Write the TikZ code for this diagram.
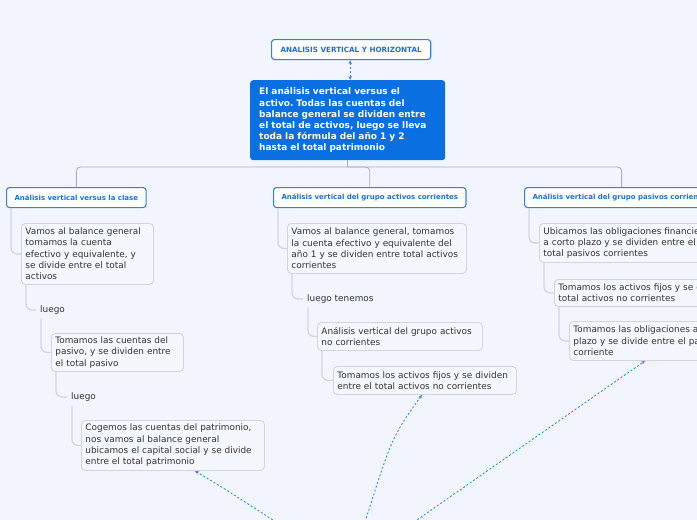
\documentclass[tikz,border=0pt]{standalone}
\usepackage{fontspec}
\setmainfont{DejaVu Sans}
\usetikzlibrary{arrows.meta,calc}
\definecolor{bgc}{HTML}{F2F5FD}
\definecolor{subfill}{HTML}{F5F7FE}
\definecolor{subline}{HTML}{D2D5DD}
\definecolor{txt}{HTML}{333333}
\definecolor{blueb}{HTML}{2F80E8}
\definecolor{bluet}{HTML}{1F6FD8}
\definecolor{rootc}{HTML}{0A6FE0}
\definecolor{mainc}{HTML}{ABAFB7}
\definecolor{connc}{HTML}{D3D6DE}
\definecolor{linkc}{HTML}{3A88E6}
\tikzset{
  sub/.style={draw=subline, fill=subfill, rounded corners=4, line width=0.9, align=left, anchor=north west, inner xsep=4, inner ysep=2, font=\fontsize{8.9}{11.3}\selectfont, text=txt},
  branch/.style={draw=blueb, fill=white, rounded corners=3, line width=1.1, anchor=north west, minimum height=20, inner xsep=8, font=\bfseries\fontsize{7}{8}\selectfont, text=bluet},
  plaintxt/.style={anchor=west, inner sep=4, font=\fontsize{8.9}{11.3}\selectfont, text=txt},
  conn/.style={draw=connc, line width=1.3, rounded corners=6},
  mainln/.style={draw=mainc, line width=0.9, rounded corners=4},
  link/.style={draw=linkc, line width=0.9, dash pattern=on 2pt off 2pt, -{Stealth[length=4pt,width=3.5pt]}},
}
\newcommand{\subconn}[2]{\draw[conn] ([xshift=5]#1.south west) |- (#2.west);}
\begin{document}
\frenchspacing
\begin{tikzpicture}[x=1pt,y=-1pt]
\useasboundingbox (0,0) rectangle (697,520);
\fill[bgc] (0,0) rectangle (697,520);
\clip (0,0) rectangle (697,520);

% top and root
\node[branch, inner xsep=9, font=\bfseries\fontsize{7.2}{8}\selectfont] (top) at (271,39) {ANALISIS VERTICAL Y HORIZONTAL};
\node[fill=rootc, rounded corners=3, anchor=north west, minimum height=80, text width=177, inner xsep=9, align=left, text=white, font=\bfseries\fontsize{9}{11.2}\selectfont] (root) at (250,80)
 {El análisis vertical versus el\\activo. Todas las cuentas del\\balance general se dividen entre\\el total de activos, luego se lleva\\toda la fórmula del año 1 y 2\\hasta el total patrimonio};
\draw[draw=linkc, line width=0.9, dash pattern=on 2pt off 2pt, {Stealth[length=4pt,width=3.5pt]}-{Stealth[length=4pt,width=3.5pt]}] ([xshift=-1]top.south) -- ([xshift=-1]top.south |- root.north);

% branches
\node[branch] (b1) at (6,187) {Análisis vertical versus la clase};
\node[branch] (b2) at (273,187) {Análisis vertical del grupo activos corrientes};
\node[branch] (b3) at (524,187) {Análisis vertical del grupo pasivos corrientes};

\coordinate (bar) at (348,167);
\draw[mainln] (root.south) -- (root.south |- bar);
\draw[mainln] (b1.north) |- (root.south |- bar);
\draw[mainln] (root.south |- bar) -| (b3.north);
\draw[mainln] (root.south |- bar) -| (b2.north);

% column 1
\node[sub, text width=124, minimum height=61] (s1) at (21,223) {Vamos al balance general\\tomamos la cuenta\\efectivo y equivalente, y\\se divide entre el total\\activos};
\node[plaintxt] (l1) at (36,310) {luego};
\node[sub, text width=124, minimum height=38] (s2) at (51,333) {Tomamos las cuentas del\\pasivo, y se dividen entre\\el total pasivo};
\node[plaintxt] (l2) at (67,397) {luego};
\node[sub, text width=175, minimum height=50] (s3) at (81,420) {Cogemos las cuentas del patrimonio,\\nos vamos al balance general\\ubicamos el capital social y se divide\\entre el total patrimonio};

% column 2
\node[sub, text width=171, minimum height=50] (t1) at (287,223) {Vamos al balance general, tomamos\\la cuenta efectivo y equivalente del\\año 1 y se dividen entre total activos\\corrientes};
\node[plaintxt] (l3) at (303,299) {luego tenemos};
\node[sub, text width=157, minimum height=28] (t2) at (317,322) {Análisis vertical del grupo activos\\no corrientes};
\node[sub, text width=175, minimum height=28] (t3) at (333,366) {Tomamos los activos fijos y se dividen\\entre el total activos no corrientes};

% column 3
\node[sub, text width=200, minimum height=39] (u1) at (539,223) {Ubicamos las obligaciones financieras\\a corto plazo y se dividen entre el\\total pasivos corrientes};
\node[sub, text width=230, minimum height=27] (u2) at (554,279) {Tomamos los activos fijos y se dividen entre el\\total activos no corrientes};
\node[sub, text width=200, minimum height=39] (u3) at (569,321) {Tomamos las obligaciones a largo\\plazo y se divide entre el pasivo\\corriente};

% sub connectors
\subconn{b1}{s1}
\subconn{s1}{l1}
\subconn{l1}{s2}
\subconn{s2}{l2}
\subconn{l2}{s3}
\subconn{b2}{t1}
\subconn{t1}{l3}
\subconn{l3}{t2}
\subconn{t2}{t3}
\subconn{b3}{u1}
\subconn{u1}{u2}
\subconn{u2}{u3}

% dashed links from below
\coordinate (f1) at (276,522);
\coordinate (f2) at (365,522);
\coordinate (f3) at (414,522);
\draw[link] (f1) .. controls (225,489) .. ([xshift=22]s3.south);
\draw[link] (f2) .. controls (392,437) .. ([xshift=-3]t3.south);
\draw[link] (f3) -- ([xshift=76]u3.south west);
\end{tikzpicture}
\end{document}
